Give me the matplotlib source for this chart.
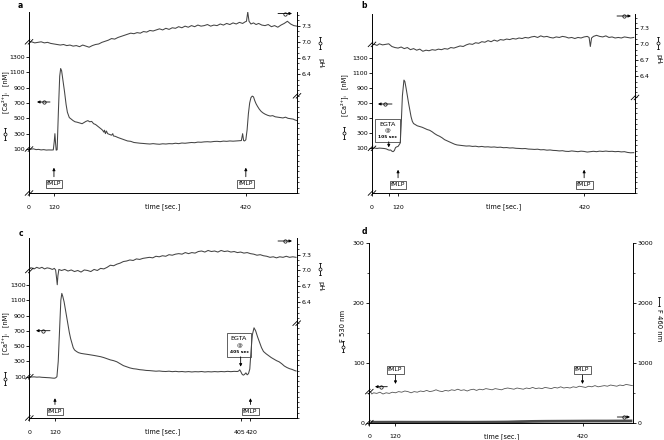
import numpy as np
import matplotlib
matplotlib.use("Agg")
import matplotlib.pyplot as plt
import matplotlib.transforms as mtransforms
from matplotlib.patches import Rectangle

W, H = 664, 440
plt.rcParams['font.family'] = ['DejaVu Sans']
plt.rcParams['axes.linewidth'] = 0.7
INK = '#444444'
FS = 4.5

# ---------------- data (time in s) ----------------
# panel a
a_ca_t = [81, 84, 88, 92, 96, 100, 104, 108, 112, 116,
          119, 120.5, 121.5, 122.5, 123.5, 125, 127, 129, 130.5, 132,
          134, 136.5, 139, 141, 144, 147, 150, 153, 156, 160,
          164, 167, 170, 173, 176, 179, 182, 185, 188, 191,
          194, 196, 198, 199, 200.5, 202, 204, 207, 210, 212,
          213, 216, 220, 225, 230, 235, 240, 245, 250, 255,
          260, 265, 270, 275, 280, 285, 290, 295, 300, 305,
          310, 315, 320, 325, 330, 335, 340, 345, 350, 355,
          360, 365, 370, 375, 380, 385, 390, 395, 400, 405,
          410, 413, 415, 416.5, 418, 420, 422, 424, 426, 428,
          430, 432, 434, 436, 438, 441, 444, 447, 450, 454,
          458, 462, 466, 470, 474, 478, 482, 486, 490, 494,
          497, 500]
a_ca = [105, 98, 102, 92, 95, 88, 92, 86, 88, 87,
        88, 200, 300, 180, 85, 90, 600, 1050, 1150, 1120,
        1000, 850, 680, 580, 510, 490, 470, 455, 450, 440,
        430, 445, 460, 470, 455, 460, 430, 420, 400, 380,
        360, 345, 320, 345, 300, 335, 300, 290, 280, 300,
        270, 265, 250, 235, 220, 205, 200, 185, 180, 175,
        172, 168, 165, 170, 165, 162, 168, 165, 170, 168,
        175, 170, 178, 175, 180, 185, 182, 190, 188, 193,
        195, 192, 198, 200, 196, 203, 200, 205, 202, 205,
        208, 210, 300, 210, 205, 220, 350, 560, 700, 770,
        790, 780, 730, 690, 660, 620, 590, 570, 555, 540,
        530, 535, 520, 515, 510, 505, 515, 500, 495, 490,
        478, 470]
a_ph_t = [81, 85, 90, 95, 100, 105, 110, 115, 120, 125,
          130, 135, 140, 145, 150, 155, 160, 165, 170, 175,
          180, 185, 190, 195, 200, 205, 210, 215, 220, 225,
          230, 235, 240, 245, 250, 255, 260, 265, 270, 275,
          280, 285, 290, 295, 300, 305, 310, 315, 320, 325,
          330, 335, 340, 345, 350, 355, 360, 365, 370, 375,
          380, 385, 390, 395, 400, 405, 410, 415, 419, 421,
          423, 425, 428, 432, 436, 440, 445, 450, 455, 460,
          465, 470, 475, 480, 485, 490, 495, 500]
a_ph = [6.99, 7.00, 6.98, 6.99, 7.00, 6.98, 6.99, 6.97, 6.96, 6.95,
        6.94, 6.95, 6.93, 6.94, 6.92, 6.93, 6.91, 6.94, 6.92, 6.90,
        6.93, 6.95, 6.96, 6.99, 7.01, 7.03, 7.06, 7.05, 7.08, 7.10,
        7.12, 7.14, 7.16, 7.15, 7.17, 7.16, 7.19, 7.18, 7.21, 7.20,
        7.22, 7.24, 7.22, 7.25, 7.23, 7.26, 7.25, 7.28, 7.26, 7.29,
        7.27, 7.30, 7.28, 7.31, 7.29, 7.30, 7.32, 7.29, 7.31, 7.30,
        7.33, 7.31, 7.34, 7.32, 7.35, 7.33, 7.36, 7.34, 7.37, 7.38,
        7.55, 7.38, 7.33, 7.35, 7.32, 7.34, 7.31, 7.30, 7.32, 7.28,
        7.30, 7.27, 7.31, 7.34, 7.38, 7.33, 7.30, 7.29]

# panel b
b_ca_t = [78, 82, 86, 90, 94, 98, 101, 104, 106, 108,
          110, 112, 114, 116, 118, 120, 122, 123.5, 125, 127,
          129.5, 131, 133, 135, 137, 139, 141, 143, 145, 148,
          151, 155, 159, 163, 167, 171, 175, 179, 183, 187,
          191, 195, 199, 203, 207, 211, 215, 220, 225, 230,
          235, 240, 245, 250, 255, 260, 265, 270, 275, 280,
          285, 290, 295, 300, 305, 310, 315, 320, 325, 330,
          335, 340, 345, 350, 355, 360, 365, 370, 375, 380,
          385, 390, 395, 400, 405, 410, 415, 420, 425, 430,
          435, 440, 445, 450, 455, 460, 465, 470, 475, 480,
          485, 490, 495, 500]
b_ca = [100, 104, 98, 103, 100, 97, 92, 80, 75, 78,
        62, 55, 70, 110, 120, 125, 150, 170, 400, 800,
        1010, 990, 900, 800, 700, 610, 520, 460, 430, 415,
        400, 390, 380, 365, 350, 340, 320, 295, 275, 260,
        240, 215, 200, 185, 170, 155, 145, 140, 135, 130,
        132, 125, 128, 120, 125, 118, 120, 115, 118, 112,
        115, 108, 110, 104, 106, 100, 98, 95, 97, 90,
        88, 85, 88, 80, 82, 75, 78, 72, 70, 65,
        68, 60, 58, 65, 60, 55, 62, 58, 50, 55,
        60, 55, 62, 58, 63, 58, 60, 55, 58, 52,
        55, 45, 40, 42]
b_ph_t = [78, 82, 86, 90, 95, 100, 105, 110, 115, 120,
          125, 130, 135, 140, 145, 150, 155, 160, 165, 170,
          175, 180, 185, 190, 195, 200, 205, 210, 215, 220,
          225, 230, 235, 240, 245, 250, 255, 260, 265, 270,
          275, 280, 285, 290, 295, 300, 305, 310, 315, 320,
          325, 330, 335, 340, 345, 350, 355, 360, 365, 370,
          375, 380, 385, 390, 395, 400, 405, 410, 415, 420,
          425, 428, 430, 432, 435, 440, 445, 450, 455, 460,
          465, 470, 475, 480, 485, 490, 495, 500]
b_ph = [6.99, 7.00, 6.98, 7.01, 6.99, 7.00, 7.01, 6.96, 6.94, 6.93,
        6.95, 6.92, 6.94, 6.90, 6.92, 6.89, 6.91, 6.87, 6.89, 6.88,
        6.90, 6.89, 6.91, 6.90, 6.92, 6.91, 6.94, 6.93, 6.95, 6.97,
        6.96, 6.99, 7.01, 7.00, 7.03, 7.02, 7.05, 7.04, 7.07, 7.05,
        7.08, 7.06, 7.09, 7.08, 7.10, 7.09, 7.11, 7.10, 7.12, 7.11,
        7.13, 7.12, 7.14, 7.15, 7.13, 7.16, 7.14, 7.15, 7.13, 7.12,
        7.14, 7.13, 7.15, 7.14, 7.12, 7.13, 7.11, 7.13, 7.12, 7.14,
        7.15, 7.13, 6.96, 7.12, 7.15, 7.17, 7.15, 7.14, 7.16, 7.13,
        7.14, 7.12, 7.13, 7.12, 7.14, 7.13, 7.12, 7.13]

# panel c
c_ca_t = [80, 84, 88, 92, 96, 100, 104, 108, 112, 116,
          119, 121, 123, 125, 127, 129, 130.5, 132, 134, 136,
          138, 140, 142, 144, 146, 148, 150, 153, 156, 160,
          165, 170, 175, 180, 185, 190, 195, 200, 205, 210,
          215, 220, 225, 230, 235, 240, 245, 250, 255, 260,
          265, 270, 275, 280, 285, 290, 295, 300, 305, 310,
          315, 320, 325, 330, 335, 340, 345, 350, 355, 360,
          365, 370, 375, 380, 385, 390, 395, 400,
          402, 403.5, 405, 407, 409, 411, 413, 415, 417, 419,
          421, 423, 425.5, 428, 431, 434, 437, 440, 444, 448,
          452, 456, 460, 464, 468, 472, 476, 480, 484, 488,
          490]
c_ca = [100, 96, 98, 94, 96, 92, 90, 88, 86, 82,
        80, 85, 100, 300, 700, 1100, 1190, 1150, 1080, 980,
        880, 780, 680, 600, 540, 480, 450, 430, 415, 405,
        398, 392, 385, 378, 370, 362, 350, 335, 320, 310,
        295, 270, 245, 230, 215, 205, 200, 192, 188, 182,
        180, 176, 172, 175, 170, 168, 172, 166, 170, 165,
        168, 163, 167, 162, 166, 164, 168, 162, 166, 163,
        167, 164, 168, 165, 170, 166, 170, 168,
        175, 190, 170, 135, 120, 130, 150, 125, 140, 200,
        450, 650, 740, 700, 620, 550, 480, 430, 400, 375,
        350, 330, 310, 295, 270, 240, 220, 205, 195, 180,
        175]
c_ph_t = [80, 84, 88, 92, 96, 100, 104, 108, 112, 116,
          119, 121, 122.5, 123.5, 124.5, 126, 130, 135, 140, 145,
          150, 155, 160, 165, 170, 175, 180, 185, 190, 195,
          200, 205, 210, 215, 220, 225, 230, 235, 240, 245,
          250, 255, 260, 265, 270, 275, 280, 285, 290, 295,
          300, 305, 310, 315, 320, 325, 330, 335, 340, 345,
          350, 355, 360, 365, 370, 375, 380, 385, 390, 395,
          400, 405, 410, 415, 420, 425, 430, 435, 440, 445,
          450, 455, 460, 465, 470, 475, 480, 485, 490]
c_ph = [7.04, 7.05, 7.03, 7.06, 7.04, 7.06, 7.03, 7.05, 7.04, 7.02,
        7.04, 7.01, 6.85, 6.73, 6.90, 7.02, 7.00, 7.02, 6.99, 7.01,
        6.98, 7.00, 6.97, 7.01, 7.00, 6.98, 7.02, 7.00, 7.04, 7.03,
        7.06, 7.10, 7.09, 7.12, 7.14, 7.17, 7.18, 7.20, 7.19, 7.22,
        7.21, 7.23, 7.24, 7.25, 7.24, 7.27, 7.26, 7.28, 7.27, 7.30,
        7.29, 7.31, 7.32, 7.31, 7.34, 7.32, 7.34, 7.33, 7.36, 7.37,
        7.35, 7.38, 7.36, 7.37, 7.35, 7.38, 7.36, 7.37, 7.35, 7.36,
        7.34, 7.35, 7.33, 7.34, 7.32, 7.31, 7.29, 7.30, 7.28, 7.27,
        7.25, 7.26, 7.24, 7.26, 7.25, 7.27, 7.25, 7.26, 7.25]

# panel d
d_t = [80, 82, 85, 90, 95, 100, 105, 110, 115, 120,
       125, 130, 135, 140, 145, 150, 155, 160, 165, 170,
       175, 180, 185, 190, 195, 200, 205, 210, 215, 220,
       225, 230, 235, 240, 245, 250, 255, 260, 265, 270,
       275, 280, 285, 290, 295, 300, 305, 310, 315, 320,
       325, 330, 335, 340, 345, 350, 355, 360, 365, 370,
       375, 380, 385, 390, 395, 400, 405, 410, 415, 420,
       425, 430, 435, 440, 445, 450, 455, 460, 465, 470,
       475, 480, 485, 490, 495, 500]
d_f530 = [52, 48, 50, 49, 51, 48, 50, 49, 51, 50,
          52, 51, 53, 52, 50, 52, 51, 53, 52, 54,
          52, 53, 55, 53, 52, 54, 53, 55, 54, 56,
          54, 55, 53, 55, 56, 54, 56, 55, 57, 56,
          55, 57, 56, 55, 57, 58, 57, 56, 58, 57,
          56, 58, 57, 59, 57, 58, 57, 59, 58, 57,
          59, 58, 60, 58, 59, 58, 60, 59, 61, 60,
          59, 61, 60, 62, 60, 61, 62, 61, 63, 62,
          61, 63, 62, 64, 63, 62]
d_f460_t = [80, 120, 160, 200, 240, 280, 300, 320, 340, 360,
            380, 400, 420, 440, 460, 480, 500]
d_f460 = [8, 9, 8, 9, 8, 10, 12, 18, 22, 24,
          25, 26, 27, 28, 28, 29, 30]

# ---------------- figure ----------------
fig = plt.figure(figsize=(W / 100, H / 100), dpi=100)
ov = fig.add_axes([0, 0, 1, 1], zorder=20)
ov.set_xlim(0, W)
ov.set_ylim(0, H)
ov.axis('off')


def box(l, t, r, b):
    return [l / W, 1 - b / H, (r - l) / W, (b - t) / H]


def lims(top, bot, va, pa, vb, pb):
    k = (va - vb) / (pb - pa)
    return va - (bot - pa) * k, va + (pa - top) * k


def brk(px, py):
    for d in (-1.5, 1.5):
        ov.plot([px - 2.6 + d, px + 2.6 + d], [py - 2.6, py + 2.6],
                color='k', lw=0.6, solid_capstyle='butt')


def key(x0, x1, y, left=True):
    yy = H - y
    tip, tail = (x0, x1) if left else (x1, x0)
    ov.annotate('', xy=(tip, yy), xytext=(tail, yy),
                arrowprops=dict(arrowstyle='-|>', color='k', lw=0.6,
                                mutation_scale=4, shrinkA=0, shrinkB=0))
    ov.plot([(x0 + x1) / 2], [yy], 'o', ms=2.4, mfc='white', mec='k', mew=0.5)


def vkey(x, y0, y1, circle=True):
    # vertical line symbol that precedes a rotated axis label
    ov.plot([x, x], [H - y0, H - y1], color='k', lw=0.6)
    for yy in (y0, y1):
        ov.plot([x - 1.2, x + 1.2], [H - yy, H - yy], color='k', lw=0.5)
    if circle:
        ov.plot([x], [H - (y0 + y1) / 2], 'o', ms=2.2, mfc='white', mec='k', mew=0.5)


def ftext(x, y, s, **kw):
    fig.text(x / W, 1 - y / H, s, ha='center', va='center', **kw)


def marker_box(ax, x, yb, y0, y1, label='fMLP'):
    tr = mtransforms.blended_transform_factory(ax.transData, ax.transAxes)
    ax.annotate('', xy=(x, y1), xytext=(x, y0), xycoords=tr, textcoords=tr,
                arrowprops=dict(arrowstyle='-|>', color='k', lw=0.6,
                                mutation_scale=4, shrinkA=0, shrinkB=0))
    ax.text(x, yb, label, transform=tr, ha='center', va='center', fontsize=4.3,
            bbox=dict(boxstyle='square,pad=0.2', fc='white', ec='#222', lw=0.5))


def egta(ax, x0, x1, y0, y1, sec, ax_x, a0, a1):
    tr = mtransforms.blended_transform_factory(ax.transData, ax.transAxes)
    ax.add_patch(Rectangle((x0, y0), x1 - x0, y1 - y0, transform=tr,
                           fc='white', ec='#222', lw=0.5))
    xc = (x0 + x1) / 2
    hh = y1 - y0
    ax.text(xc, y0 + hh * 0.78, 'EGTA', transform=tr, ha='center', va='center', fontsize=4.6)
    ax.text(xc, y0 + hh * 0.48, '@', transform=tr, ha='center', va='center', fontsize=4.2)
    ax.text(xc, y0 + hh * 0.2, sec, transform=tr, ha='center', va='center', fontsize=3.2,
            fontweight='bold')
    ax.annotate('', xy=(ax_x, a1), xytext=(ax_x, a0), xycoords=tr, textcoords=tr,
                arrowprops=dict(arrowstyle='-|>', color='k', lw=0.6,
                                mutation_scale=4, shrinkA=0, shrinkB=0))


def ca_panel(bx, xlim, ca_pos, ph_pos, xticks, xlabels, ca_t, ca, ph_t, ph):
    l, t, r, b = bx
    ax = fig.add_axes(box(*bx))
    ax2 = ax.twinx()
    ax.set_xlim(*xlim)
    ax.set_ylim(*lims(t, b, 1300, ca_pos[0], 100, ca_pos[1]))
    ax2.set_ylim(*lims(t, b, 7.3, ph_pos[0], 6.4, ph_pos[1]))
    for s in ('top', 'right'):
        ax.spines[s].set_visible(False)
    for s in ('top', 'left', 'bottom'):
        ax2.spines[s].set_visible(False)
    ax.set_yticks(np.arange(100, 1301, 200))
    ax2.set_yticks([6.4, 6.7, 7.0, 7.3])
    ax2.set_yticklabels(['6.4', '6.7', '7.0', '7.3'])
    ax2.set_yticks(np.arange(4.2, 7.56, 0.1), minor=True)
    ax.set_xticks(xticks)
    ax.set_xticklabels(xlabels)
    ax.tick_params(axis='y', length=2.2, width=0.6, labelsize=FS, pad=0.5)
    ax.tick_params(axis='x', length=2.5, width=0.6, labelsize=FS, pad=5.8)
    ax2.tick_params(axis='y', which='major', length=2.5, width=0.6, labelsize=FS, pad=0.8)
    ax2.tick_params(axis='y', which='minor', length=1.3, width=0.5)

    ax.plot(ca_t, ca, color=INK, lw=0.75)
    ax2.plot(ph_t, ph, color=INK, lw=0.75)

    ftext((l + r) / 2, b + 14, 'time [sec.]', fontsize=FS + 0.2)
    # axis breaks
    lx = ax.transAxes.transform((0, 0))[0]
    rx = ax.transAxes.transform((1, 0))[0]
    brk(lx, ax2.transData.transform((xlim[0], 7.0))[1])
    brk(lx, ax.transData.transform((xlim[0], 100))[1])
    brk(lx, H - b)
    brk(rx, ax2.transData.transform((xlim[0], 6.0))[1])
    return ax, ax2


ca_label = '[Ca²⁺]ᵢ   [nM]'
ph_label = 'pHᵢ'

# panel a
ax_a, ax_a2 = ca_panel((29, 12, 297, 193), (81, 500), (57, 149), (26, 76),
                       [81, 120, 420], ['0', '120', '420'],
                       a_ca_t, a_ca, a_ph_t, a_ph)
marker_box(ax_a, 120, 0.05, 0.09, 0.14)
marker_box(ax_a, 420, 0.05, 0.09, 0.14)
ftext(20.7, 5, 'a', fontsize=5.5, fontweight='bold')
ftext(5.2, 92, ca_label, rotation=90, fontsize=4.7)
vkey(5.2, 128, 140)
ftext(320, 63, ph_label, rotation=270, fontsize=4.9)
vkey(320, 37, 49)
key(37, 50, 102, left=True)
key(278, 292, 13.5, left=False)

# panel b
ax_b, ax_b2 = ca_panel((372, 14, 635, 193), (78, 502), (58.3, 148.3), (28.5, 76.5),
                       [78, 105, 120, 420], ['0', '', '120', '420'],
                       b_ca_t, b_ca, b_ph_t, b_ph)
marker_box(ax_b, 120, 0.045, 0.085, 0.13)
marker_box(ax_b, 420, 0.045, 0.085, 0.13)
egta(ax_b, 83.5, 123.7, 0.286, 0.411, '105 sec', 105, 0.286, 0.255)
ftext(364.3, 5, 'b', fontsize=5.5, fontweight='bold')
ftext(344, 95, ca_label, rotation=90, fontsize=4.7)
vkey(344, 127, 139)
ftext(658, 59, ph_label, rotation=270, fontsize=4.9)
vkey(658, 37, 49)
key(378, 392, 104, left=True)
key(617, 631, 16, left=False)

# panel c
ax_c, ax_c2 = ca_panel((29.3, 238, 296.7, 418), (80.6, 491), (285, 376.7), (255, 303.3),
                       [80.6, 120, 405, 420], ['0', '120', '405', '420'],
                       c_ca_t, c_ca, c_ph_t, c_ph)
for lab, dx in zip(ax_c.get_xticklabels()[2:], (-0.015, 0.015)):
    lab.set_transform(lab.get_transform() + mtransforms.ScaledTranslation(dx, 0, fig.dpi_scale_trans))
marker_box(ax_c, 120, 0.035, 0.075, 0.11)
marker_box(ax_c, 420, 0.035, 0.075, 0.11)
egta(ax_c, 383.3, 421.6, 0.34, 0.47, '405 sec', 405, 0.34, 0.285)
ftext(20.7, 233, 'c', fontsize=5.5, fontweight='bold')
ftext(5.2, 333, ca_label, rotation=90, fontsize=4.7)
vkey(5.2, 372, 385)
ftext(320, 286, ph_label, rotation=270, fontsize=4.9)
vkey(320, 263, 275)
key(36, 50, 330.7, left=True)
key(278, 292, 241, left=False)

# panel d
dl, dt, dr, db = 369.3, 243.3, 633, 422.7
ax_d = fig.add_axes(box(dl, dt, dr, db))
ax_d2 = ax_d.twinx()
ax_d.set_xlim(78, 501)
ax_d.set_ylim(0, 300)
ax_d2.set_ylim(0, 3000)
ax_d.spines['top'].set_visible(False)
ax_d.spines['right'].set_visible(False)
for s in ('top', 'left', 'bottom'):
    ax_d2.spines[s].set_visible(False)
ax_d.set_yticks([0, 100, 200, 300])
ax_d.set_yticks([50, 150, 250], minor=True)
ax_d2.set_yticks([0, 1000, 2000, 3000])
ax_d2.set_yticks([500, 1500, 2500], minor=True)
ax_d.set_xticks([78, 120, 420])
ax_d.set_xticklabels(['0', '120', '420'])
ax_d.tick_params(axis='y', which='major', length=2.5, width=0.6, labelsize=FS, pad=0.8)
ax_d.tick_params(axis='y', which='minor', length=1.5, width=0.5)
ax_d.tick_params(axis='x', length=2.5, width=0.6, labelsize=FS, pad=5.8)
ax_d2.tick_params(axis='y', which='major', length=2.5, width=0.6, labelsize=FS, pad=0.8)
ax_d2.tick_params(axis='y', which='minor', length=1.5, width=0.5)
ax_d.plot(d_t, d_f530, color='#555555', lw=0.6)
ax_d2.plot(d_f460_t, d_f460, color='#4a4a4a', lw=2.0, solid_capstyle='butt')
marker_box(ax_d, 120, 0.294, 0.266, 0.216)
marker_box(ax_d, 420, 0.294, 0.266, 0.216)
ftext((dl + dr) / 2, db + 14, 'time [sec.]', fontsize=FS + 0.2)
ftext(364, 231.7, 'd', fontsize=5.5, fontweight='bold')
ftext(343, 326, 'F 530 nm', rotation=90, fontsize=4.9)
vkey(343, 341, 352)
ftext(659, 325, 'F 460 nm', rotation=270, fontsize=4.9)
vkey(659, 297, 306, circle=False)
key(375, 387.3, 386.7, left=True)
key(617.3, 630, 417, left=False)
lxd = ax_d.transAxes.transform((0, 0))[0]
brk(lxd, ax_d.transData.transform((78, 52))[1])
brk(lxd, H - db)

fig.savefig('out.png', dpi=100)
